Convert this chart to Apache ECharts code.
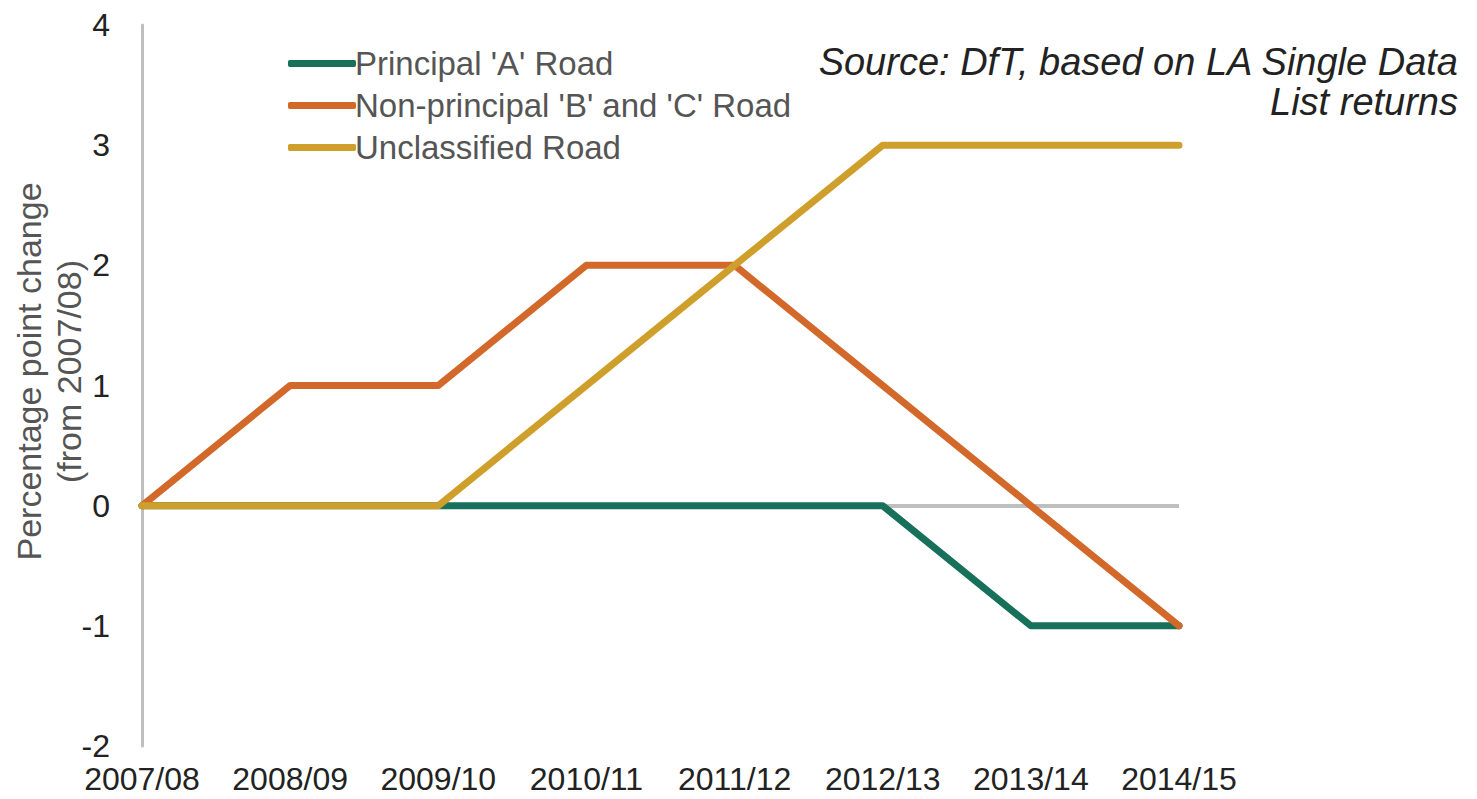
<!DOCTYPE html>
<html>
<head>
<meta charset="utf-8">
<script src="https://cdn.jsdelivr.net/npm/echarts@6/dist/echarts.min.js"></script>
<style>
  html, body { margin: 0; padding: 0; background: #fff; }
  #chart { width: 1477px; height: 799px; }
</style>
</head>
<body>
<div id="chart"></div>
<script>
var years = ['2007/08', '2008/09', '2009/10', '2010/11', '2011/12', '2012/13', '2013/14', '2014/15'];
var principalA = [0, 0, 0, 0, 0, 0, -1, -1];
var nonPrincipalBC = [0, 1, 1, 2, 2, 1, 0, -1];
var unclassified = [0, 0, 0, 1, 2, 3, 3, 3];
var seriesNames = ["Principal 'A' Road", "Non-principal 'B' and 'C' Road", 'Unclassified Road'];

(function() {
  var font = 'Liberation Sans, Arial, sans-serif';
  var colors = ['#17705a', '#d2692a', '#cf9f2c'];
  var chart = echarts.init(document.getElementById('chart'), null, { renderer: 'svg' });

  function lineSeries(name, data, color, extra) {
    var s = {
      name: name,
      type: 'line',
      data: data,
      symbol: 'none',
      lineStyle: { color: color, width: 7, cap: 'round', join: 'round' },
      itemStyle: { color: color }
    };
    return Object.assign(s, extra || {});
  }

  chart.setOption({
    animation: false,
    backgroundColor: '#fff',
    grid: { left: 142, right: 298, top: 25, bottom: 53, containLabel: false, outerBoundsMode: 'none' },
    legend: {
      left: 283,
      top: 42,
      orient: 'vertical',
      itemWidth: 68,
      itemHeight: 7,
      itemGap: 9,
      icon: 'roundRect',
      textStyle: { fontFamily: font, fontSize: 33, lineHeight: 32, color: '#555', padding: [0, 0, 0, -6] },
      data: seriesNames
    },
    graphic: [{
      type: 'text',
      right: 19,
      top: 42,
      style: {
        text: 'Source: DfT, based on LA Single Data\nList returns',
        font: 'italic 38px Liberation Sans, Arial, sans-serif',
        fill: '#222',
        textAlign: 'right',
        lineHeight: 40
      }
    }],
    xAxis: {
      type: 'category',
      data: years,
      boundaryGap: false,
      axisLine: { show: false, onZero: false },
      axisTick: { show: false },
      axisLabel: { color: '#222', fontFamily: font, fontSize: 32, lineHeight: 26, margin: 20, interval: 0 },
      splitLine: { show: false }
    },
    yAxis: {
      type: 'value',
      min: -2,
      max: 4,
      interval: 1,
      name: 'Percentage point change\n(from 2007/08)',
      nameLocation: 'middle',
      nameGap: 53,
      nameMoveOverlap: false,
      nameTextStyle: { color: '#555', fontFamily: font, fontSize: 34, lineHeight: 40, padding: [0, 0, 0, 28] },
      axisLine: { show: true, lineStyle: { color: '#bfbfbf', width: 3 } },
      axisTick: { show: false },
      axisLabel: { color: '#222', fontFamily: font, fontSize: 32, lineHeight: 26, margin: 32 },
      splitLine: { show: false }
    },
    series: [
      lineSeries(seriesNames[0], principalA, colors[0], {
        markLine: {
          silent: true,
          symbol: 'none',
          label: { show: false },
          lineStyle: { color: '#bfbfbf', width: 4, type: 'solid' },
          data: [{ yAxis: 0 }],
          z: 1
        }
      }),
      lineSeries(seriesNames[1], nonPrincipalBC, colors[1]),
      lineSeries(seriesNames[2], unclassified, colors[2])
    ]
  });
  window.addEventListener('resize', function() { chart.resize(); });
})();
</script>
</body>
</html>
